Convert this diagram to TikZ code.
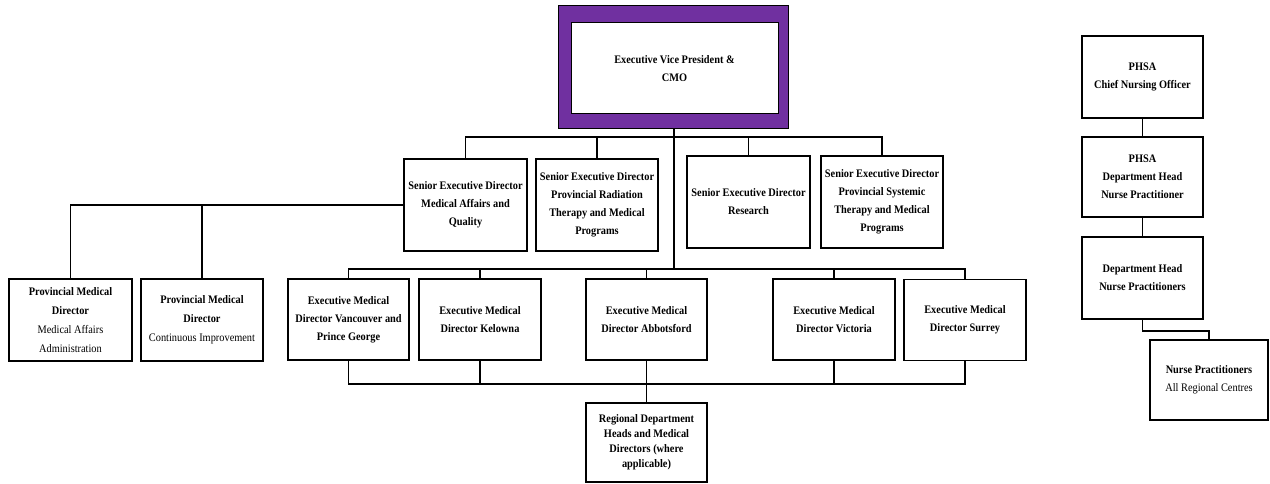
\documentclass[tikz,border=0pt]{standalone}
\usepackage{fontspec}
\setmainfont{Liberation Serif}[FakeStretch=0.9]
\definecolor{purp}{HTML}{7030A0}
\tikzset{
  box/.style={draw=black, line width=1.2pt, fill=white, align=center, inner sep=1pt,
    font=\fontsize{11.5}{18}\selectfont\bfseries},
  wide/.style={box, minimum width=122pt, minimum height=82pt},
  conn/.style={draw=black, line width=1.2pt},
}
\newcommand{\reg}[1]{{\mdseries #1}}
\begin{document}
\begin{tikzpicture}[x=1pt,y=-1pt]
\useasboundingbox (0,0) rectangle (1270,484);
% top
\node[draw=black, line width=1pt, fill=purp, minimum width=230pt, minimum height=123pt, inner sep=0pt] (cmoframe) at (673,67.5) {};
\node[box, line width=1pt, minimum width=207pt, minimum height=91pt] (cmo) at (674.5,68.5) {Executive Vice President \&\\CMO};
% senior executive directors
\node[wide, minimum width=123pt, minimum height=92pt] (sed1) at (465.5,205) {Senior Executive Director\\Medical Affairs and\\Quality};
\node[wide, minimum height=92pt] (sed2) at (597,205) {Senior Executive Director\\Provincial Radiation\\Therapy and Medical\\Programs};
\node[wide, minimum width=123pt, minimum height=92pt] (sed3) at (748.5,202) {Senior Executive Director\\Research};
\node[wide, minimum height=92pt] (sed4) at (882,202) {Senior Executive Director\\Provincial Systemic\\Therapy and Medical\\Programs};
% provincial medical directors
\node[wide, minimum width=123pt, font=\fontsize{11.5}{19}\selectfont\bfseries] (pmd1) at (70.5,320) {Provincial Medical\\Director\\\reg{Medical Affairs}\\\reg{Administration}};
\node[wide, font=\fontsize{11.5}{19}\selectfont\bfseries] (pmd2) at (202,320) {Provincial Medical\\Director\\\reg{Continuous Improvement}};
% executive medical directors
\node[wide, minimum width=121pt, minimum height=81pt] (emd1) at (348.5,319.5) {Executive Medical\\Director Vancouver and\\Prince George};
\node[wide, minimum height=81pt] (emd2) at (480,319.5) {Executive Medical\\Director Kelowna};
\node[wide, minimum width=121pt, minimum height=81pt] (emd3) at (646.5,319.5) {Executive Medical\\Director Abbotsford};
\node[wide, minimum height=81pt] (emd4) at (834,319.5) {Executive Medical\\Director Victoria};
\node[wide, minimum height=81pt] (emd5) at (965,320) {Executive Medical\\Director Surrey};
\node[wide, minimum width=121pt, minimum height=79pt, font=\fontsize{11.5}{15}\selectfont\bfseries] (reg) at (646.5,442.5) {Regional Department\\Heads and Medical\\Directors (where\\applicable)};
% nursing column
\node[wide, minimum width=121pt] (cno) at (1142.5,77) {PHSA\\Chief Nursing Officer};
\node[wide, minimum width=121pt, minimum height=80pt] (dhnp) at (1142.5,177) {PHSA\\Department Head\\Nurse Practitioner};
\node[wide, minimum width=121pt] (dhnps) at (1142.5,278) {Department Head\\Nurse Practitioners};
\node[wide, minimum width=118pt, minimum height=80pt] (np) at (1209,380) {Nurse Practitioners\\\reg{All Regional Centres}};
% coordinates
\coordinate (b2) at (674,137);
\coordinate (hub) at (674,269);
\coordinate (b3) at (646.5,384);
% connectors
\path[conn] (cmoframe.south -| hub) -- (hub);
\path[conn] (sed1.north) |- (b2) -| (sed4.north);
\path[conn] (sed2.north) -- (sed2.north |- b2);
\path[conn] (sed3.north) -- (sed3.north |- b2);
\path[conn] (sed1.west) -| (pmd1.north);
\path[conn] (pmd2.north) -- (pmd2.north |- sed1.west);
\path[conn] (emd1.north) |- (hub) -| (emd5.north);
\path[conn] (emd2.north) -- (emd2.north |- hub);
\path[conn] (emd3.north) -- (emd3.north |- hub);
\path[conn] (emd4.north) -- (emd4.north |- hub);
\path[conn] (emd1.south) |- (b3) -| (emd5.south);
\path[conn] (emd2.south) -- (emd2.south |- b3);
\path[conn] (emd4.south) -- (emd4.south |- b3);
\path[conn] (emd3.south) -- (reg.north);
\path[conn] (cno.south) -- (dhnp.north);
\path[conn] (dhnp.south) -- (dhnps.north);
\coordinate (npk) at (1142.5,331);
\path[conn] (dhnps.south) -- (npk) -| (np.north);
\end{tikzpicture}
\end{document}
